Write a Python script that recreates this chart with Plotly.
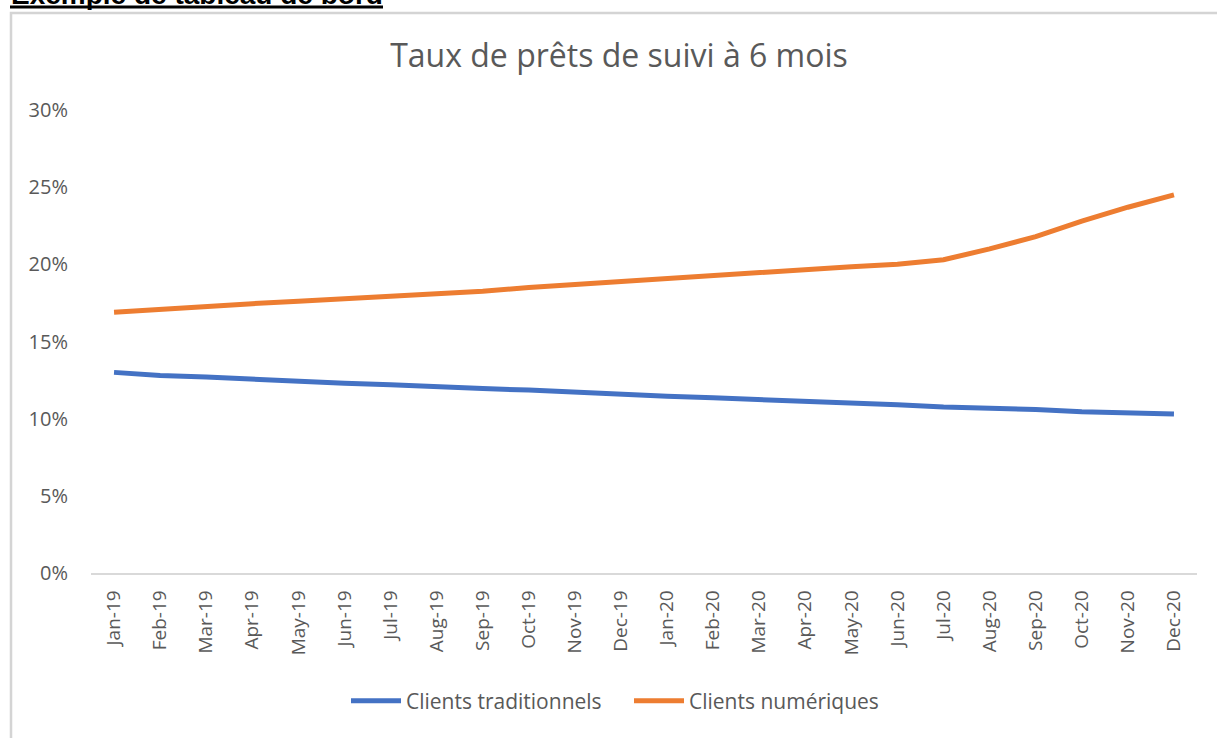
import plotly.graph_objects as go

months = ["Jan-19", "Feb-19", "Mar-19", "Apr-19", "May-19", "Jun-19", "Jul-19", "Aug-19",
          "Sep-19", "Oct-19", "Nov-19", "Dec-19", "Jan-20", "Feb-20", "Mar-20", "Apr-20",
          "May-20", "Jun-20", "Jul-20", "Aug-20", "Sep-20", "Oct-20", "Nov-20", "Dec-20"]

traditionnels = [0.130, 0.128, 0.127, 0.1255, 0.1245, 0.123, 0.122, 0.1205, 0.1195, 0.1185,
                 0.117, 0.116, 0.1145, 0.1135, 0.1125, 0.111, 0.110, 0.109, 0.1075, 0.107,
                 0.106, 0.1045, 0.1035, 0.103]
numeriques = [0.169, 0.171, 0.173, 0.1745, 0.176, 0.1775, 0.179, 0.181, 0.1825, 0.185,
              0.187, 0.189, 0.191, 0.193, 0.1945, 0.1965, 0.1985, 0.200, 0.203, 0.210,
              0.218, 0.228, 0.237, 0.245]
y_ticks = [0, 0.05, 0.10, 0.15, 0.20, 0.25, 0.30]

FONT = "Open Sans"
GREY = "#595959"

fig = go.Figure()
fig.add_trace(go.Scatter(x=months, y=traditionnels, mode="lines", name="Clients traditionnels",
                         line=dict(color="#4472C4", width=5)))
fig.add_trace(go.Scatter(x=months, y=numeriques, mode="lines", name="Clients numériques",
                         line=dict(color="#ED7D31", width=5)))

W, H = 1217, 738
L, R = 91, 1197
T, B = 110, 573

def px_x(p):
    return (p - L) / (R - L)

def px_y(p):
    return (B - p) / (B - T)

fig.update_layout(
    width=W, height=H,
    margin=dict(l=L, r=W - R, t=T, b=H - B, pad=0),
    paper_bgcolor="white", plot_bgcolor="white",
    font=dict(family=FONT, color=GREY),
    title=dict(text="Taux de prêts de suivi à 6 mois", font=dict(size=32, color=GREY, family=FONT),
               xref="container", x=619 / W, xanchor="center",
               yref="container", y=1 - 56 / H, yanchor="middle"),
    xaxis=dict(type="category", range=[-0.5, 23.5], showgrid=False, showline=True,
               linecolor="#D9D9D9", linewidth=1.5, ticks="", tickangle=-90,
               tickfont=dict(size=19, color=GREY, family=FONT), ticklabelstandoff=8,
               zeroline=False),
    yaxis=dict(range=[0, 0.30], tickvals=y_ticks, tickformat=".0%", showgrid=False,
               showline=False, zeroline=False, ticks="",
               tickfont=dict(size=20, color=GREY, family=FONT), ticklabelstandoff=22),
    legend=dict(orientation="h", x=px_x(346), xanchor="left", y=px_y(701), yanchor="middle",
                font=dict(size=21, color=GREY, family=FONT), itemwidth=50,
                entrywidth=218, entrywidthmode="pixels", bgcolor="rgba(0,0,0,0)"),
    showlegend=True,
    shapes=[
        dict(type="rect", xref="paper", yref="paper", x0=px_x(11), x1=px_x(1240),
             y0=px_y(760), y1=px_y(13), line=dict(color="#D4D4D4", width=2.5),
             fillcolor="rgba(0,0,0,0)", layer="below"),
        dict(type="line", xref="paper", yref="paper", x0=px_x(10), x1=px_x(383),
             y0=px_y(7), y1=px_y(7), line=dict(color="black", width=3)),
    ],
    annotations=[
        dict(text="<b>Exemple de tableau de bord</b>", xref="paper", yref="paper",
             x=px_x(9), y=px_y(-5), xanchor="left", yanchor="middle", showarrow=False,
             font=dict(family="Liberation Sans", size=28, color="black")),
    ],
)

fig.write_html("out.html", config={"displayModeBar": False},
               post_script="document.body.style.margin='0';")
